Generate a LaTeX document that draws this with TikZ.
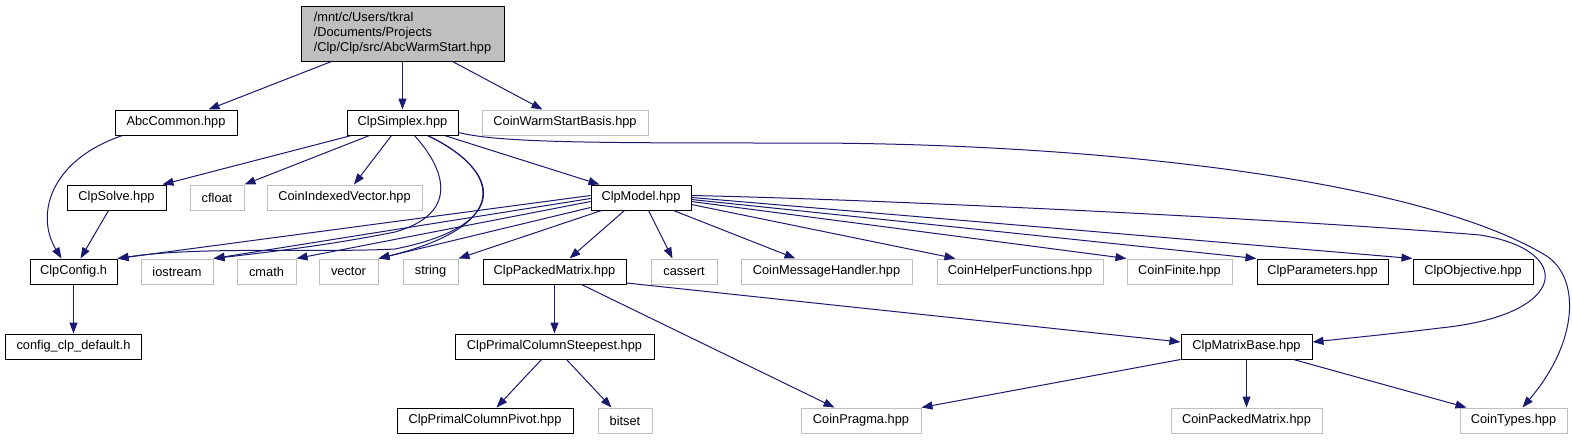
\documentclass[tikz,border=0pt]{standalone}
\usepackage{fontspec}
\setmainfont{Liberation Sans}
\usetikzlibrary{positioning,arrows.meta}
\definecolor{edgeblue}{HTML}{191970}
\definecolor{sysgray}{HTML}{BFBFBF}

\begin{document}
\begin{tikzpicture}[x=1pt, y=-1pt, >={Triangle[length=11pt,width=8pt]}, font=\fontsize{12.8}{15}\selectfont]

\useasboundingbox (0,0) rectangle (1572,440);

% Styles
\tikzstyle{hdr} = [draw=black, line width=1pt, rectangle, minimum height=25pt, inner sep=0pt, fill=white]
\tikzstyle{syshdr} = [draw=sysgray, line width=1pt, rectangle, minimum height=25pt, inner sep=0pt, fill=white]
\tikzstyle{rootfile} = [draw=black, line width=1pt, rectangle, minimum width=203pt, minimum height=55pt, inner sep=0pt, align=left, fill=sysgray]
\tikzstyle{incl} = [->, draw=edgeblue, line width=1pt]

% Nodes - root and first level
\node[rootfile] (root) at (402.5,33.5) {/mnt/c/Users/tkral\\/Documents/Projects\\/Clp/Clp/src/AbcWarmStart.hpp};
\node[hdr, minimum width=111pt, below of=root, node distance=89pt] (simplex) {ClpSimplex.hpp};
\node[hdr, minimum width=122pt, left of=simplex, node distance=226.5pt] (abc) {AbcCommon.hpp};
\node[syshdr, minimum width=166pt, right of=simplex, node distance=162.5pt] (warm) {CoinWarmStartBasis.hpp};

% Nodes - second level
\node[syshdr, minimum width=155pt, below of=simplex, node distance=75pt, xshift=-58pt] (civ) {CoinIndexedVector.hpp};
\node[syshdr, minimum width=54pt, left of=civ, node distance=127.5pt] (cfloat) {cfloat};
\node[hdr, minimum width=99pt, left of=cfloat, node distance=100.5pt] (solve) {ClpSolve.hpp};
\node[hdr, minimum width=100pt, right of=civ, node distance=296.5pt] (model) {ClpModel.hpp};

% Nodes - third level
\node[hdr, minimum width=87pt, below of=solve, node distance=74pt, xshift=-43pt] (config) {ClpConfig.h};
\node[syshdr, minimum width=72pt, right of=config, node distance=103.5pt] (iostream) {iostream};
\node[syshdr, minimum width=59pt, right of=iostream, node distance=89.5pt] (cmath) {cmath};
\node[syshdr, minimum width=59pt, right of=cmath, node distance=82pt] (vector) {vector};
\node[syshdr, minimum width=55pt, right of=vector, node distance=82pt] (string) {string};
\node[hdr, minimum width=143pt, right of=string, node distance=124pt] (packed) {ClpPackedMatrix.hpp};
\node[syshdr, minimum width=66pt, right of=packed, node distance=129.5pt] (cassert) {cassert};
\node[syshdr, minimum width=171pt, right of=cassert, node distance=142.5pt] (msg) {CoinMessageHandler.hpp};
\node[syshdr, minimum width=166pt, right of=msg, node distance=193.5pt] (helper) {CoinHelperFunctions.hpp};
\node[syshdr, minimum width=105pt, right of=helper, node distance=159.5pt] (finite) {CoinFinite.hpp};
\node[hdr, minimum width=131pt, right of=finite, node distance=143pt] (params) {ClpParameters.hpp};
\node[hdr, minimum width=120pt, right of=params, node distance=150.5pt] (objective) {ClpObjective.hpp};

% Nodes - fourth and fifth level
\node[hdr, minimum width=136pt, below of=config, node distance=75pt] (ccd) {config\_clp\_default.h};
\node[hdr, minimum width=199pt, below of=packed, node distance=75pt] (steepest) {ClpPrimalColumnSteepest.hpp};
\node[hdr, minimum width=131pt, right of=steepest, node distance=692pt] (matbase) {ClpMatrixBase.hpp};
\node[hdr, minimum width=176pt, below of=steepest, node distance=74pt, xshift=-69.5pt] (pivot) {ClpPrimalColumnPivot.hpp};
\node[syshdr, minimum width=54pt, right of=pivot, node distance=140pt] (bitset) {bitset};
\node[syshdr, minimum width=120pt, right of=bitset, node distance=236pt] (pragma) {CoinPragma.hpp};
\node[syshdr, minimum width=151pt, below of=matbase, node distance=74pt] (cpm) {CoinPackedMatrix.hpp};
\node[syshdr, minimum width=107pt, right of=cpm, node distance=267pt] (types) {CoinTypes.hpp};

% Connections root
\draw[incl] ([xshift=31pt]root.south west) -- ([xshift=-29pt]abc.north east);
\draw[incl] (root) -- (simplex);
\draw[incl] ([xshift=-52pt]root.south east) -- ([xshift=61pt]warm.north west);

% Connections AbcCommon, ClpSolve
\draw[incl] ([xshift=8pt]abc.south west) .. controls (50,160) and (35,215) .. ([xshift=32pt]config.north west);
\draw[incl] ([xshift=42pt]solve.south west) -- ([xshift=51pt]config.north west);

% Connections ClpSimplex
\draw[incl] ([xshift=5pt]simplex.south west) -- ([xshift=-4pt]solve.north east);
\draw[incl] ([xshift=23pt]simplex.south west) -- (cfloat.north east);
\draw[incl] ([xshift=45pt]simplex.south west) -- ([xshift=9.5pt]civ.north);
\draw[incl] ([xshift=98pt]simplex.south west) -- ([xshift=9pt]model.north west);
\draw[incl] ([xshift=68pt]simplex.south west) .. controls (450,175) and (455,215) .. (395,232) .. controls (330,245) and (270,252) .. (iostream.north east);
\draw[incl] ([xshift=81pt]simplex.south west) .. controls (500,170) and (515,225) .. (vector.north east);
\draw[incl] ([xshift=81pt]simplex.south west) .. controls (500,170) and (515,225) .. (395,249) .. controls (320,253) and (200,246) .. (config.north east);
\draw[incl] ([yshift=3pt]simplex.south east) .. controls (500,143) and (600,143) .. (800,143) .. controls (1100,143) and (1420,180) .. (1545,255) .. controls (1580,276) and (1580,340) .. ([xshift=63pt]types.north west);

% Connections ClpModel
\draw[incl] ([yshift=2pt]model.west) -- (config.north east);
\draw[incl] ([yshift=-1pt]model.west) -- (iostream.north east);
\draw[incl] ([yshift=-4pt]model.west) -- (cmath.north east);
\draw[incl] ([yshift=3pt]model.south west) -- (vector.north east);
\draw[incl] ([xshift=11pt]model.south west) -- (string.north east);
\draw[incl] ([xshift=34pt]model.south west) -- ([xshift=87pt]packed.north west);
\draw[incl] ([xshift=58pt]model.south west) -- ([xshift=22pt]cassert.north west);
\draw[incl] ([xshift=83pt]model.south west) -- ([xshift=55pt]msg.north west);
\draw[incl] ([yshift=-7pt]model.east) -- ([xshift=19pt]helper.north west);
\draw[incl] ([yshift=-4pt]model.east) -- (finite.north west);
\draw[incl] ([yshift=-2pt]model.east) -- (params.north west);
\draw[incl] (model.east) -- (objective.north west);
\draw[incl] ([yshift=2pt]model.east) .. controls (900,200) and (1300,220) .. (1480,235) .. controls (1575,250) and (1570,315) .. (1440,328) .. controls (1400,333) and (1350,338) .. ([yshift=4.5pt]matbase.east);

% Connections lower levels
\draw[incl] (config) -- (ccd);
\draw[incl] (packed) -- (steepest);
\draw[incl] ([xshift=99pt]packed.south west) -- ([xshift=34pt]pragma.north west);
\draw[incl] ([yshift=-11.5pt]packed.east) -- ([yshift=4.5pt]matbase.west);
\draw[incl] ([xshift=87pt]steepest.south west) -- ([xshift=100pt]pivot.north west);
\draw[incl] ([xshift=112pt]steepest.south west) -- ([xshift=14pt]bitset.north west);
\draw[incl] (matbase.south west) -- (pragma.north east);
\draw[incl] (matbase) -- (cpm);
\draw[incl] ([xshift=-19pt]matbase.south east) -- ([xshift=7pt]types.north west);

\end{tikzpicture}
\end{document}
